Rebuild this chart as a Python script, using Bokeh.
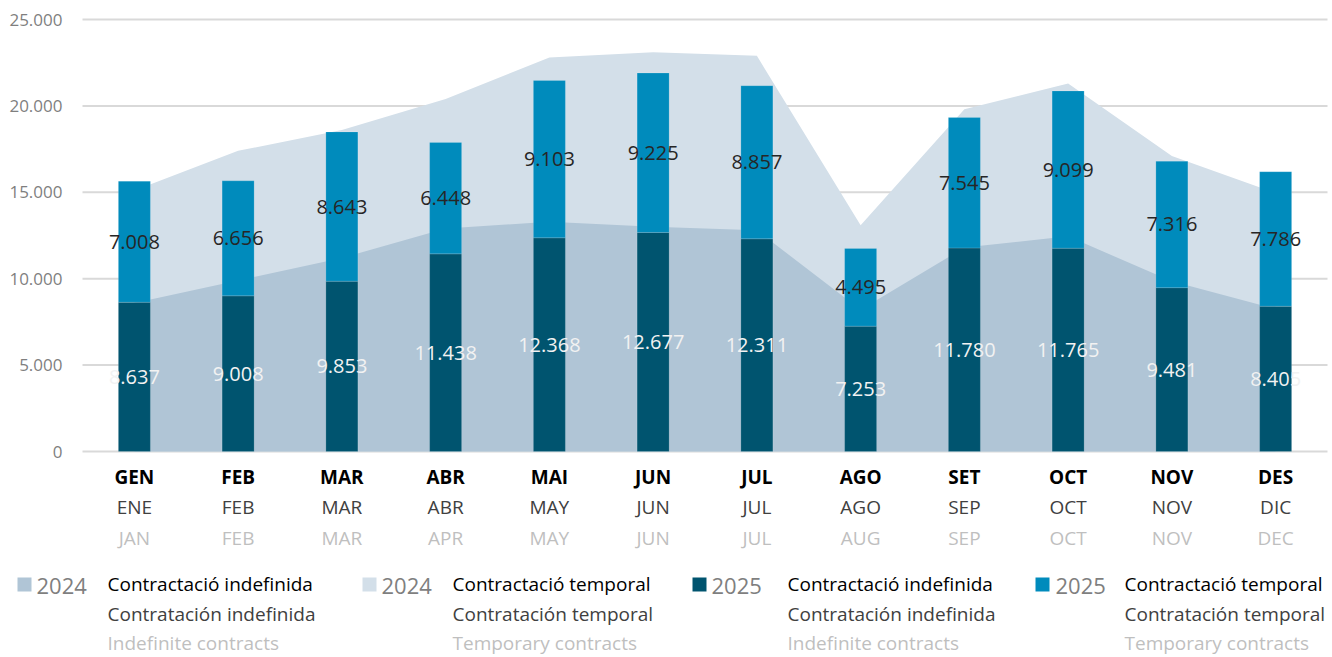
from bokeh.plotting import figure
from bokeh.models import Range1d
from bokeh.core.properties import value
from bokeh.embed import file_html
from bokeh.resources import INLINE

# ---------------- data ----------------
months_ca = ["GEN", "FEB", "MAR", "ABR", "MAI", "JUN", "JUL", "AGO", "SET", "OCT", "NOV", "DES"]
months_es = ["ENE", "FEB", "MAR", "ABR", "MAY", "JUN", "JUL", "AGO", "SEP", "OCT", "NOV", "DIC"]
months_en = ["JAN", "FEB", "MAR", "APR", "MAY", "JUN", "JUL", "AUG", "SEP", "OCT", "NOV", "DEC"]

indef_2025 = [8637, 9008, 9853, 11438, 12368, 12677, 12311, 7253, 11780, 11765, 9481, 8405]
temp_2025 = [7008, 6656, 8643, 6448, 9103, 9225, 8857, 4495, 7545, 9099, 7316, 7786]
indef_2024 = [8600, 9900, 11200, 12900, 13300, 13000, 12800, 8200, 11800, 12450, 9850, 8250]
temp_2024 = [6500, 7500, 7400, 7500, 9500, 10100, 10100, 4900, 8000, 8850, 7250, 6700]

y_ticks = [0, 5000, 10000, 15000, 20000, 25000]

legend_years = ["2024", "2024", "2025", "2025"]
legend_ca = ["Contractació indefinida", "Contractació temporal", "Contractació indefinida", "Contractació temporal"]
legend_es = ["Contratación indefinida", "Contratación temporal", "Contratación indefinida", "Contratación temporal"]
legend_en = ["Indefinite contracts", "Temporary contracts", "Indefinite contracts", "Temporary contracts"]

# ---------------- styling ----------------
C_AREA_IND = "#b0c5d6"
C_AREA_TMP = "#d3dfe9"
C_BAR_IND = "#00546f"
C_BAR_TMP = "#008bbc"
legend_colors = [C_AREA_IND, C_AREA_TMP, C_BAR_IND, C_BAR_TMP]
FONT = value("Open Sans")

def fmt(v):
    return f"{v:,}".replace(",", ".")

# layout helpers (page pixels -> data coordinates)
W, H = 1330, 655
PX0, PXW = 82, 103.75     # x of plot start, px per month
PY0, PPK = 451, 17.28     # y of zero line, px per 1000
def dx(px):
    return (px - PX0) / PXW
def dy(py):
    return (PY0 - py) / PPK * 1000.0

p = figure(width=W, height=H, output_backend="svg", toolbar_location=None,
           x_range=Range1d(dx(0), dx(W)), y_range=Range1d(dy(H), dy(0)),
           x_axis_location=None, y_axis_location=None, min_border=0,
           outline_line_color=None, background_fill_color="white",
           border_fill_color="white")
p.grid.visible = False

n = len(months_ca)
xs = [i + 0.5 for i in range(n)]
tot_2024 = [a + b for a, b in zip(indef_2024, temp_2024)]
tot_2025 = [a + b for a, b in zip(indef_2025, temp_2025)]

# gridlines
p.segment(x0=[0] * len(y_ticks), x1=[n] * len(y_ticks), y0=y_ticks, y1=y_ticks,
          line_color="#d9d9d9", line_width=2)
# y tick labels
p.text(x=[dx(62)] * len(y_ticks), y=y_ticks, text=[fmt(t) for t in y_ticks],
       text_align="right", text_baseline="middle", text_font=FONT,
       text_font_size="17px", text_color="#7f7f7f")

# 2024 areas
p.varea(x=xs, y1=[0] * n, y2=tot_2024, fill_color=C_AREA_TMP)
p.varea(x=xs, y1=[0] * n, y2=indef_2024, fill_color=C_AREA_IND)

# 2025 stacked bars
bw = 32 / PXW
p.vbar(x=xs, bottom=[0] * n, top=indef_2025, width=bw, fill_color=C_BAR_IND,
       line_color="white", line_alpha=0.15, line_width=1)
p.vbar(x=xs, bottom=indef_2025, top=tot_2025, width=bw, fill_color=C_BAR_TMP,
       line_color="white", line_alpha=0.15, line_width=1)

# value labels
p.text(x=xs, y=[v / 2 for v in indef_2025], text=[fmt(v) for v in indef_2025],
       text_align="center", text_baseline="middle", text_font=FONT,
       text_font_size="20px", text_color="#f2f2f2")
p.text(x=xs, y=[a + b / 2 for a, b in zip(indef_2025, temp_2025)],
       text=[fmt(v) for v in temp_2025],
       text_align="center", text_baseline="middle", text_font=FONT,
       text_font_size="20px", text_color="#262626")

# month labels (three languages)
p.text(x=xs, y=[dy(476)] * n, text=months_ca, text_align="center", text_baseline="middle",
       text_font=FONT, text_font_size="19px", text_font_style="bold", text_color="#000000")
p.text(x=xs, y=[dy(506)] * n, text=months_es, text_align="center", text_baseline="middle",
       text_font=FONT, text_font_size="19px", text_color="#404040")
p.text(x=xs, y=[dy(537)] * n, text=months_en, text_align="center", text_baseline="middle",
       text_font=FONT, text_font_size="19px", text_color="#bfbfbf")

# legend
sq_px = [24, 369, 699, 1042]
yr_px = [36, 381, 711, 1055]
tx_px = [107, 452, 787, 1124]
row1, row2, row3 = 583, 613, 642
p.rect(x=[dx(v) for v in sq_px], y=[dy(row1 + 1)] * 4, width=14, height=14,
       width_units="screen", height_units="screen", fill_color=legend_colors, line_color=None)
p.text(x=[dx(v) for v in yr_px], y=[dy(row1 + 2)] * 4, text=legend_years, text_align="left",
       text_baseline="middle", text_font=FONT, text_font_size="22px", text_color="#7f7f7f")
p.text(x=[dx(v) for v in tx_px], y=[dy(row1)] * 4, text=legend_ca, text_align="left",
       text_baseline="middle", text_font=FONT, text_font_size="19px", text_color="#000000")
p.text(x=[dx(v) for v in tx_px], y=[dy(row2)] * 4, text=legend_es, text_align="left",
       text_baseline="middle", text_font=FONT, text_font_size="19px", text_color="#404040")
p.text(x=[dx(v) for v in tx_px], y=[dy(row3)] * 4, text=legend_en, text_align="left",
       text_baseline="middle", text_font=FONT, text_font_size="19px", text_color="#bfbfbf")

open("out.html", "w").write(file_html(p, INLINE))
